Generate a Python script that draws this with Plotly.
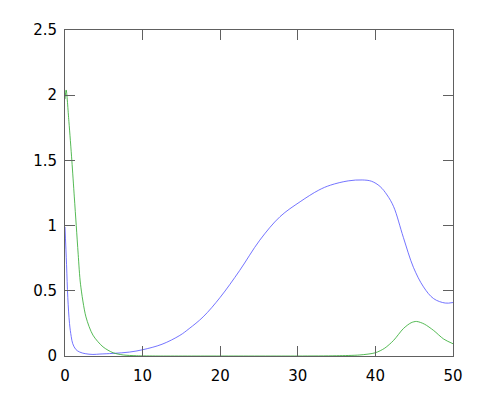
import plotly.graph_objects as go

blue_x = [0, 0.2, 0.36, 0.58, 0.8, 1.0, 1.4, 1.9, 2.6, 3.6, 4.5, 6.2, 8.3, 10, 12.5, 14.8,
          16, 17.8, 20, 22.5, 25.1, 27.7, 30.3, 32.7, 34.2, 36.5,
          38.3, 39.5, 40.6, 41.5, 42.35, 43.6, 44.9, 46.2, 47.5, 49.0, 50]
blue_y = [0.99, 0.7, 0.45, 0.25, 0.15, 0.094, 0.05, 0.03, 0.018, 0.012, 0.015, 0.02, 0.03,
          0.048, 0.09, 0.158, 0.21, 0.30, 0.45, 0.655, 0.888, 1.068, 1.183, 1.272, 1.31,
          1.343, 1.35, 1.34, 1.30, 1.235, 1.145, 0.91, 0.68, 0.53, 0.44, 0.406, 0.41]

green_x = [0, 0.15, 0.5, 0.88, 1.2, 1.45, 1.7, 2.0, 2.7, 3.6, 4.9, 6.2, 7.5, 9.2, 12, 20,
           30, 35, 38, 40, 41.2, 42.35, 43.6, 44.6, 45.3, 46.3, 47.5, 48.8, 50]
green_y = [1.97, 2.04, 1.8, 1.5, 1.22, 1.0, 0.78, 0.55, 0.3, 0.16, 0.07, 0.025, 0.008,
           0.002, 0, 0, 0, 0.002, 0.008, 0.025, 0.06, 0.12, 0.21, 0.255, 0.265, 0.245,
           0.196, 0.13, 0.094]

x_ticks = [0, 10, 20, 30, 40, 50]
y_ticks = [0, 0.5, 1, 1.5, 2, 2.5]
y_ticklabels = ["0", "0.5", "1", "1.5", "2", "2.5"]

fig = go.Figure()
fig.add_trace(go.Scatter(x=blue_x, y=blue_y, mode="lines",
                         line=dict(color="#5050ff", width=0.8, shape="spline", smoothing=1.0)))
fig.add_trace(go.Scatter(x=green_x, y=green_y, mode="lines",
                         line=dict(color="#2aa82a", width=0.8, shape="spline", smoothing=0.8)))

axis_common = dict(showline=True, mirror="ticks", linecolor="#606060", linewidth=1,
                   ticks="inside", ticklen=10, tickcolor="#606060", tickwidth=1,
                   showgrid=False, zeroline=False,
                   tickfont=dict(family="DejaVu Sans", size=15, color="black"))

fig.update_layout(
    width=500, height=400,
    margin=dict(l=65, r=47, t=30, b=44),
    paper_bgcolor="white", plot_bgcolor="white",
    showlegend=False,
    xaxis=dict(range=[0, 50], tickvals=x_ticks, ticklabelstandoff=6, **axis_common),
    yaxis=dict(range=[0, 2.5], tickvals=y_ticks, ticktext=y_ticklabels,
               ticklabelstandoff=4, **axis_common),
)

fig.write_html("out.html", config={"displayModeBar": False},
               post_script="document.body.style.margin='0';")
